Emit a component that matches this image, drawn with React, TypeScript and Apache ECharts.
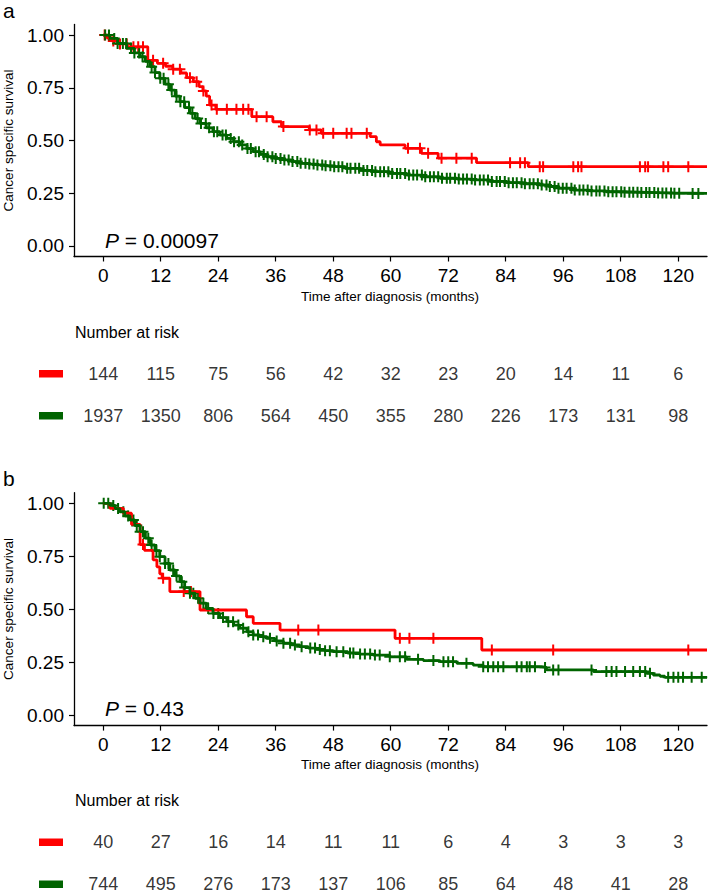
import React, { useEffect, useRef } from "react";
import * as echarts from "echarts";

// ---------- DATA ----------
const timeTicks = [0, 12, 24, 36, 48, 60, 72, 84, 96, 108, 120];
const survTicks = [0, 0.25, 0.5, 0.75, 1];

// Panel a – red group
const aRedTime = [0, 0.8, 1.8, 3.2, 5, 9.3, 11.3, 13, 14.5, 16.2, 17.4, 18.8, 20, 20.8, 21.5, 22.2, 23.5, 31, 35.4, 37.2, 43, 45.5, 55.7, 57, 57.8, 63, 66.4, 69.9, 77.9, 88.7, 126];
const aRedSurv = [1, 0.986, 0.972, 0.958, 0.944, 0.88, 0.866, 0.852, 0.838, 0.82, 0.798, 0.779, 0.755, 0.735, 0.71, 0.668, 0.648, 0.613, 0.589, 0.566, 0.55, 0.534, 0.518, 0.494, 0.479, 0.463, 0.439, 0.416, 0.395, 0.376, 0.376];
const aRedCensor = [0.3, 2.1, 3.5, 4.9, 6.3, 7.3, 8.3, 10.4, 12.5, 14.6, 16, 18.1, 19.5, 20.9, 22.6, 23.7, 25.8, 27.8, 29.2, 30.3, 32, 34.1, 37.6, 43.1, 44.5, 45.9, 48, 50.8, 51.8, 55, 63.6, 66.1, 67.8, 70.6, 73.7, 76.9, 84.9, 87, 88, 91.1, 91.8, 98.1, 99.1, 99.8, 112, 113.1, 113.7, 116.9, 117.9, 122.1];

// Panel a – green group
const aGreenTime = [0, 1.4, 3, 4.9, 6.5, 7.7, 8.8, 9.8, 10.8, 11.8, 12.9, 13.9, 15, 16, 17, 18.1, 19.2, 20.2, 21.5, 22.9, 24.3, 25.8, 27.2, 28.5, 30, 31.3, 32.7, 34.1, 35.8, 37.6, 39.3, 41, 42.8, 44.5, 46.2, 48, 50.5, 53.5, 56.3, 59.8, 63.3, 66.8, 70.3, 73.8, 77.2, 80.7, 84.2, 87.7, 91.1, 93, 95, 98.1, 101.5, 105, 108.5, 112, 115.5, 119, 122.5, 126];
const aGreenSurv = [1, 0.984, 0.96, 0.937, 0.915, 0.897, 0.875, 0.85, 0.822, 0.795, 0.767, 0.739, 0.71, 0.684, 0.656, 0.629, 0.604, 0.581, 0.56, 0.542, 0.526, 0.51, 0.494, 0.479, 0.462, 0.447, 0.434, 0.423, 0.415, 0.408, 0.4, 0.392, 0.388, 0.384, 0.38, 0.376, 0.368, 0.358, 0.352, 0.344, 0.336, 0.328, 0.321, 0.317, 0.313, 0.306, 0.3, 0.295, 0.289, 0.282, 0.274, 0.265, 0.261, 0.257, 0.255, 0.253, 0.251, 0.25, 0.249, 0.248];
const aGreenCensor = [0.4, 1.2, 2.3, 3.0, 4.1, 4.8, 5.8, 6.5, 7.5, 8.2, 9.3, 10.1, 10.8, 11.9, 12.6, 13.6, 14.3, 15.3, 16.1, 16.9, 17.9, 18.6, 19.7, 20.4, 21.4, 22.1, 23.1, 23.8, 24.9, 25.6, 26.6, 27.3, 28.3, 29.0, 30.1, 30.8, 31.8, 32.5, 33.5, 34.3, 35.3, 36.0, 37.0, 37.8, 38.7, 39.5, 40.5, 41.2, 42.2, 43.0, 43.9, 44.7, 45.7, 46.4, 47.4, 48.2, 49.1, 49.9, 50.9, 51.6, 52.6, 53.4, 54.3, 55.1, 56.1, 56.8, 57.8, 58.6, 59.5, 60.3, 61.3, 62.0, 63.0, 63.8, 64.7, 65.5, 66.5, 67.2, 68.2, 69.0, 69.9, 70.7, 71.7, 72.4, 73.4, 74.2, 75.1, 75.9, 76.9, 77.6, 78.6, 79.4, 80.3, 81.1, 82.1, 82.8, 83.8, 84.6, 85.5, 86.3, 87.3, 88.0, 89.0, 89.8, 90.7, 91.5, 92.5, 93.2, 94.2, 95.0, 95.9, 96.7, 97.7, 98.4, 99.4, 100.2, 101.1, 101.9, 102.9, 103.6, 104.6, 105.4, 106.3, 107.1, 108.1, 108.8, 109.8, 110.6, 111.5, 112.3, 113.3, 114.0, 115.0, 115.8, 116.7, 117.5, 118.5, 119.2, 120.2, 123.0, 124.2];

// Panel b – red group
const bRedTime = [0, 1.4, 4.2, 5.9, 7.7, 8.6, 10.4, 11.2, 11.8, 12.3, 13.9, 20.2, 29.9, 31.3, 36.9, 60.9, 79, 126];
const bRedSurv = [1, 0.976, 0.953, 0.9, 0.805, 0.778, 0.733, 0.7, 0.667, 0.646, 0.583, 0.496, 0.464, 0.433, 0.401, 0.362, 0.307, 0.307];
const bRedCensor = [8.3, 12.5, 16.8, 18.3, 40.7, 44.9, 61.9, 63.9, 68.9, 81.1, 93.9, 122.1];

// Panel b – green group
const bGreenTime = [0, 1.4, 2.5, 3.5, 4.5, 5.6, 6.6, 7.7, 8.8, 9.8, 10.8, 11.8, 12.9, 13.9, 15, 16, 17, 18.1, 19.2, 20.2, 21.5, 22.9, 24.3, 25.8, 27.2, 28.5, 30, 31.3, 32.7, 34.1, 35.8, 37.6, 39.3, 41, 42.8, 44.5, 46.2, 48, 51, 53.5, 56.3, 59.8, 63.3, 66.8, 70.3, 73.8, 77.2, 79.3, 91.5, 92.5, 102.3, 113.4, 114.8, 116.2, 117.2, 126];
const bGreenSurv = [1, 0.99, 0.975, 0.96, 0.94, 0.921, 0.895, 0.866, 0.835, 0.803, 0.776, 0.748, 0.716, 0.685, 0.657, 0.63, 0.602, 0.575, 0.551, 0.528, 0.503, 0.48, 0.46, 0.441, 0.425, 0.41, 0.393, 0.378, 0.37, 0.362, 0.35, 0.339, 0.331, 0.323, 0.316, 0.31, 0.304, 0.299, 0.293, 0.288, 0.283, 0.275, 0.263, 0.257, 0.252, 0.244, 0.236, 0.228, 0.225, 0.213, 0.205, 0.197, 0.189, 0.183, 0.178, 0.178];
const bGreenCensor = [0.1, 1.05, 2.1, 3.1, 4.2, 5.2, 6.3, 7.0, 7.7, 8.3, 9.4, 10.1, 11.1, 11.8, 12.9, 13.6, 14.6, 15.3, 16.4, 17.0, 18.1, 18.8, 19.8, 20.9, 21.9, 23.0, 24.0, 25.0, 26.1, 27.1, 28.2, 29.2, 30.3, 31.3, 32.3, 33.4, 34.8, 36.2, 37.6, 39.0, 40.0, 41.4, 43.2, 44.2, 45.2, 46.3, 47.3, 48.7, 50.1, 51.5, 52.2, 53.6, 54.6, 55.7, 56.7, 57.7, 59.8, 61.9, 63.0, 65.7, 68.9, 71.0, 72.0, 73.0, 75.8, 79.3, 80.3, 81.4, 82.4, 83.5, 86.3, 87.3, 88.4, 89.0, 90.1, 92.2, 93.9, 95.0, 101.9, 105.0, 106.1, 107.1, 108.9, 110.6, 112.0, 113.1, 114.1, 117.9, 119.0, 120.0, 121.0, 122.8, 124.9];

// Number at risk
const aRiskRed = [144, 115, 75, 56, 42, 32, 23, 20, 14, 11, 6];
const aRiskGreen = [1937, 1350, 806, 564, 450, 355, 280, 226, 173, 131, 98];
const bRiskRed = [40, 27, 16, 14, 11, 11, 6, 4, 3, 3, 3];
const bRiskGreen = [744, 495, 276, 173, 137, 106, 85, 64, 48, 41, 28];

const pValueA = "0.00097";
const pValueB = "0.43";

// ---------- STYLE ----------
const RED = "#FF0000";
const GREEN = "#006400";
const FONT = "Liberation Sans, Arial, sans-serif";
const PLUS = "path://M4.5,0H6.5V11H4.5ZM0,4.5H11V6.5H0Z";

function survAt(times: number[], surv: number[], t: number) {
  let s = surv[0];
  for (let i = 0; i < times.length; i++) if (times[i] <= t) s = surv[i];
  return s;
}
const pairs = (t: number[], s: number[]) => t.map((v, i) => [v, s[i]]);
const censorPts = (c: number[], t: number[], s: number[]) => c.map((v) => [v, survAt(t, s, v)]);

export default function App() {
  const ref = useRef<HTMLDivElement>(null);
  useEffect(() => {
    if (!ref.current) return;
    const chart = echarts.init(ref.current, undefined, { renderer: "svg" });

    const plotX = (gi: number) => ({
      type: "value",
      gridIndex: gi,
      min: -6.1,
      max: 126,
      axisLine: { show: true, onZero: false, lineStyle: { color: "#000", width: 1.3 } },
      axisTick: { show: true, length: 5, customValues: timeTicks, lineStyle: { color: "#000", width: 1.2 } },
      axisLabel: { customValues: timeTicks, fontSize: 19, color: "#000", fontFamily: FONT, margin: 9 },
      splitLine: { show: false },
    });
    const riskX = (gi: number) => ({ type: "value", gridIndex: gi, min: -6.1, max: 126, show: false });
    const plotY = (gi: number) => ({
      type: "value",
      gridIndex: gi,
      min: -0.05,
      max: 1.05,
      axisLine: { show: true, onZero: false, lineStyle: { color: "#000", width: 1.3 } },
      axisTick: { show: true, length: 5, customValues: survTicks, lineStyle: { color: "#000", width: 1.2 } },
      axisLabel: {
        customValues: survTicks,
        fontSize: 19,
        color: "#000",
        fontFamily: FONT,
        margin: 10,
        formatter: (v: number) => v.toFixed(2),
      },
      splitLine: { show: false },
    });
    // risk rows: 1 = red row, 2 = green row
    const riskY = (gi: number) => ({ type: "value", gridIndex: gi, min: 0.5, max: 2, inverse: true, show: false });

    const lineS = (xi: number, t: number[], s: number[], color: string) => ({
      type: "line",
      xAxisIndex: xi,
      yAxisIndex: xi,
      step: "end",
      symbol: "none",
      lineStyle: { color, width: 2.8 },
      data: pairs(t, s),
      silent: true,
    });
    const censS = (xi: number, c: number[], t: number[], s: number[], color: string) => ({
      type: "scatter",
      xAxisIndex: xi,
      yAxisIndex: xi,
      symbol: PLUS,
      symbolSize: 11,
      itemStyle: { color, opacity: 1 },
      data: censorPts(c, t, s),
      silent: true,
    });
    const riskS = (xi: number, vals: number[], row: number) => ({
      type: "scatter",
      xAxisIndex: xi,
      yAxisIndex: xi,
      symbolSize: 0,
      clip: false,
      data: vals.map((v, i) => [timeTicks[i], row, v]),
      label: {
        show: true,
        position: "inside",
        formatter: (p: any) => String(p.value[2]),
        fontSize: 18,
        color: "#000",
        fontFamily: FONT,
      },
      silent: true,
    });

    const panelGraphics = (dy: number, label: string, p: string) => [
      {
        type: "text",
        x: 3,
        y: 10 + dy,
        style: { text: label, fontSize: 21, fontFamily: FONT, fill: "#000", verticalAlign: "middle" },
      },
      {
        type: "text",
        x: 8,
        y: 140.5 + dy,
        rotation: Math.PI / 2,
        style: { text: "Cancer specific survival", fontSize: 13.5, fontFamily: FONT, fill: "#000", align: "center", verticalAlign: "middle" },
      },
      {
        type: "text",
        x: 390,
        y: 296 + dy,
        style: { text: "Time after diagnosis (months)", fontSize: 13.5, fontFamily: FONT, fill: "#000", align: "center", verticalAlign: "middle" },
      },
      {
        type: "text",
        x: 105,
        y: 240 + dy,
        style: {
          text: "{i|P} = " + p,
          fontSize: 21,
          fontFamily: FONT,
          fill: "#000",
          verticalAlign: "middle",
          rich: { i: { fontStyle: "italic", fontSize: 21, fontFamily: FONT, fill: "#000" } },
        },
      },
      {
        type: "text",
        x: 75,
        y: 332 + dy,
        style: { text: "Number at risk", fontSize: 16, fontFamily: FONT, fill: "#000", verticalAlign: "middle" },
      },
      { type: "rect", shape: { x: 39, y: 370 + dy, width: 24, height: 7.5 }, style: { fill: RED } },
      { type: "rect", shape: { x: 39, y: 412 + dy, width: 24, height: 7.5 }, style: { fill: GREEN } },
    ];

    chart.setOption({
      animation: false,
      backgroundColor: "#fff",
      grid: [
        { left: 74, top: 24.5, width: 633, height: 232 },
        { left: 74, top: 353, width: 633, height: 63 },
        { left: 74, top: 492.7, width: 633, height: 232.9 },
        { left: 74, top: 821.3, width: 633, height: 63 },
      ],
      xAxis: [plotX(0), riskX(1), plotX(2), riskX(3)],
      yAxis: [plotY(0), riskY(1), plotY(2), riskY(3)],
      series: [
        lineS(0, aRedTime, aRedSurv, RED),
        censS(0, aRedCensor, aRedTime, aRedSurv, RED),
        lineS(0, aGreenTime, aGreenSurv, GREEN),
        censS(0, aGreenCensor, aGreenTime, aGreenSurv, GREEN),
        riskS(1, aRiskRed, 1),
        riskS(1, aRiskGreen, 2),
        lineS(2, bRedTime, bRedSurv, RED),
        censS(2, bRedCensor, bRedTime, bRedSurv, RED),
        lineS(2, bGreenTime, bGreenSurv, GREEN),
        censS(2, bGreenCensor, bGreenTime, bGreenSurv, GREEN),
        riskS(3, bRiskRed, 1),
        riskS(3, bRiskGreen, 2),
      ],
      graphic: [...panelGraphics(0, "a", pValueA), ...panelGraphics(468.5, "b", pValueB)],
    });
    return () => chart.dispose();
  }, []);
  return <div ref={ref} style={{ position: "fixed", left: 0, top: 0, width: 709, height: 893 }} />;
}
